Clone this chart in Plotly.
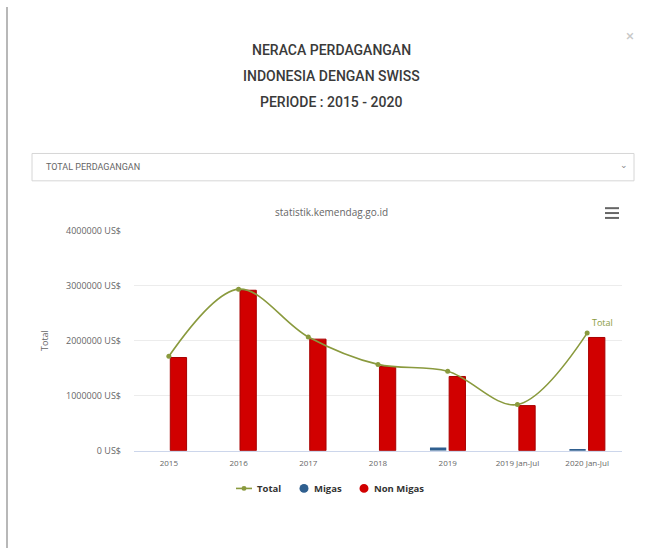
import plotly.graph_objects as go

W, H = 647, 554

# Trade balance data (US$)
categories = ["2015", "2016", "2017", "2018", "2019", "2019 Jan-Jul", "2020 Jan-Jul"]
total = [1717000, 2940000, 2070000, 1570000, 1445000, 840000, 2140000]
migas = [0, 0, 0, 0, 55000, 0, 22000]
non_migas = [1695000, 2920000, 2030000, 1530000, 1350000, 820000, 2060000]

y_ticks = [0, 1000000, 2000000, 3000000, 4000000]
y_tick_labels = ["0 US$", "1000000 US$", "2000000 US$", "3000000 US$", "4000000 US$"]

legend_names = ["Total", "Migas", "Non Migas"]

TOTAL_COLOR = "#8a9a3e"
MIGAS_COLOR = "#2f5f8f"
NONMIGAS_COLOR = "#d10000"
TEXT_GRAY = "#666666"


def px_x(p):
    return p / W


def px_y(p):
    return 1 - p / H


fig = go.Figure()

fig.add_trace(go.Bar(
    x=categories, y=migas, name=legend_names[1],
    marker=dict(color=MIGAS_COLOR, line=dict(width=0)),
))
fig.add_trace(go.Bar(
    x=categories, y=non_migas, name=legend_names[2],
    marker=dict(color=NONMIGAS_COLOR, line=dict(color="#a80000", width=1)),
))
fig.add_trace(go.Scatter(
    x=categories, y=total, name=legend_names[0],
    mode="lines+markers",
    line=dict(color=TOTAL_COLOR, width=1.6, shape="spline", smoothing=1.0),
    marker=dict(color=TOTAL_COLOR, size=5, symbol="circle"),
))

annotations = []
# Modal heading
for text, py in [("NERACA PERDAGANGAN", 44), ("INDONESIA DENGAN SWISS", 71), ("PERIODE : 2015 - 2020", 97)]:
    annotations.append(dict(
        x=px_x(331), y=px_y(py), xref="paper", yref="paper", text=text,
        showarrow=False, xanchor="center", yanchor="middle",
        font=dict(family="Roboto", size=14, color="#3a3a3a", weight=500),
    ))
# Close button
annotations.append(dict(
    x=px_x(630), y=px_y(30), xref="paper", yref="paper", text="×",
    showarrow=False, xanchor="center", yanchor="middle",
    font=dict(family="Roboto", size=15, color="#c8c8c8"),
))
# Dropdown text and caret
annotations.append(dict(
    x=px_x(44), y=px_y(164), xref="paper", yref="paper", text="TOTAL PERDAGANGAN",
    showarrow=False, xanchor="left", yanchor="middle",
    font=dict(family="Roboto", size=9, color="#666666"),
))
annotations.append(dict(
    x=px_x(624), y=px_y(162), xref="paper", yref="paper", text="⌄",
    showarrow=False, xanchor="center", yanchor="middle",
    font=dict(family="DejaVu Sans", size=9, color="#888888"),
))
# Chart subtitle
annotations.append(dict(
    x=px_x(331), y=px_y(210), xref="paper", yref="paper", text="statistik.kemendag.go.id",
    showarrow=False, xanchor="center", yanchor="middle",
    font=dict(family="Open Sans", size=10, color=TEXT_GRAY),
))
# Y axis title
annotations.append(dict(
    x=px_x(45), y=px_y(342), xref="paper", yref="paper", text="Total",
    showarrow=False, textangle=-90, xanchor="center", yanchor="middle",
    font=dict(family="Open Sans", size=9, color=TEXT_GRAY),
))
# Series label at the last point
annotations.append(dict(
    x=categories[-1], y=total[-1], xref="x", yref="y", text="Total",
    showarrow=False, xanchor="left", yanchor="bottom", xshift=3, yshift=2,
    font=dict(family="Open Sans", size=9, color=TOTAL_COLOR),
))

shapes = []
# Modal left edge
shapes.append(dict(type="line", xref="paper", yref="paper",
                   x0=px_x(7), x1=px_x(7), y0=px_y(0), y1=px_y(554),
                   line=dict(color="#b8b8b8", width=2)))
# Dropdown box
shapes.append(dict(type="rect", xref="paper", yref="paper",
                   x0=px_x(32), x1=px_x(634), y0=px_y(178), y1=px_y(150),
                   line=dict(color="#d6d6d6", width=1)))
# Context menu icon
for py in [206, 211, 216]:
    shapes.append(dict(type="line", xref="paper", yref="paper",
                       x0=px_x(605), x1=px_x(619), y0=px_y(py), y1=px_y(py),
                       line=dict(color="#666666", width=2)))

# Legend row: symbol + label for each series
LEG_Y = 493
legend_font = dict(family="Open Sans", size=9.5, color="#333333", weight="bold")
# Total: short line with a dot
shapes.append(dict(type="line", xref="paper", yref="paper",
                   x0=px_x(236), x1=px_x(252), y0=px_y(LEG_Y), y1=px_y(LEG_Y),
                   line=dict(color=TOTAL_COLOR, width=1.6)))
shapes.append(dict(type="circle", xref="paper", yref="paper",
                   x0=px_x(241.5), x1=px_x(246.5), y0=px_y(LEG_Y + 2.5), y1=px_y(LEG_Y - 2.5),
                   fillcolor=TOTAL_COLOR, line=dict(width=0)))
annotations.append(dict(x=px_x(255), y=px_y(LEG_Y), xref="paper", yref="paper",
                        text=legend_names[0], showarrow=False, xanchor="left", yanchor="middle",
                        font=legend_font))
# Migas and Non Migas: round symbols
for cx, tx, color, name in [(304, 312, MIGAS_COLOR, legend_names[1]),
                            (364, 372, NONMIGAS_COLOR, legend_names[2])]:
    shapes.append(dict(type="circle", xref="paper", yref="paper",
                       x0=px_x(cx - 4.5), x1=px_x(cx + 4.5),
                       y0=px_y(LEG_Y + 4.5), y1=px_y(LEG_Y - 4.5),
                       fillcolor=color, line=dict(width=0)))
    annotations.append(dict(x=px_x(tx), y=px_y(LEG_Y), xref="paper", yref="paper",
                            text=name, showarrow=False, xanchor="left", yanchor="middle",
                            font=legend_font))

fig.update_layout(
    width=W, height=H,
    margin=dict(l=0, r=0, t=0, b=0),
    paper_bgcolor="white", plot_bgcolor="white",
    barmode="group", bargap=0.45, bargroupgap=0.15,
    showlegend=False,
    font=dict(family="Open Sans", color=TEXT_GRAY),
    annotations=annotations, shapes=shapes,
    xaxis=dict(
        domain=[px_x(134), px_x(622)],
        type="category", categoryorder="array", categoryarray=categories,
        showgrid=False, showline=True, linecolor="#ccd6eb", linewidth=1,
        ticks="", tickfont=dict(size=8, color=TEXT_GRAY), ticklabelstandoff=5,
        fixedrange=True,
    ),
    yaxis=dict(
        domain=[px_y(454.3), px_y(229.3)],
        range=[0, 4000000],
        tickvals=y_ticks, ticktext=y_tick_labels,
        showgrid=True, gridcolor="#ececec", gridwidth=1,
        zeroline=False, showline=False, ticks="",
        tickfont=dict(size=9, color=TEXT_GRAY), ticklabelstandoff=12,
        fixedrange=True,
    ),
)

fig.write_html("out.html", config={"displayModeBar": False})
